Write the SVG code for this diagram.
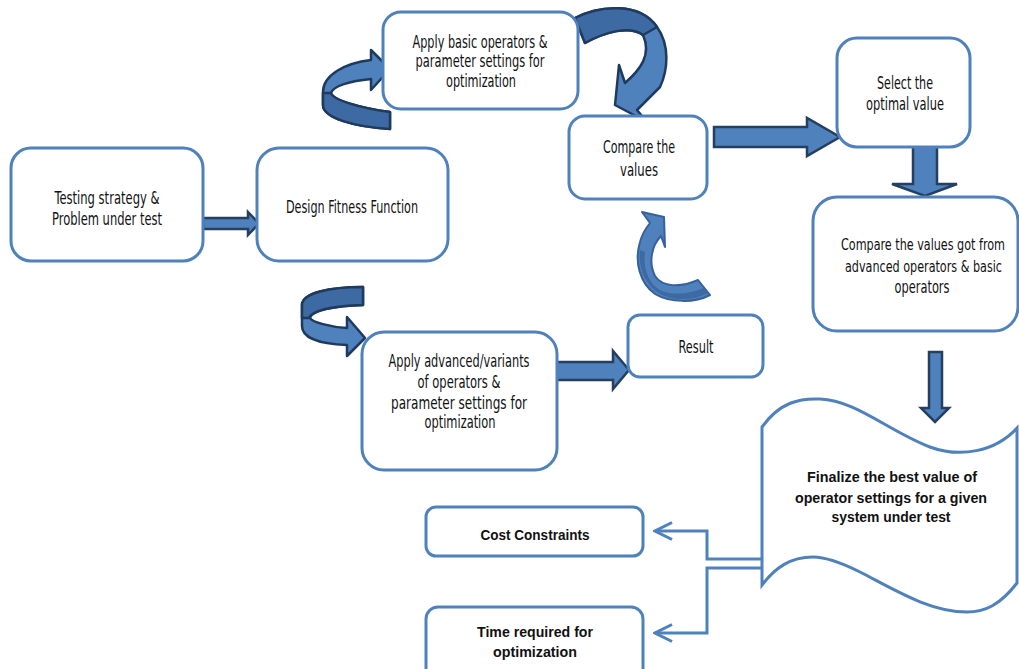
<svg xmlns="http://www.w3.org/2000/svg" width="1019" height="669" viewBox="0 0 1019 669">
  <style>
    .box { fill: #ffffff; stroke: #4f81bd; stroke-width: 3; }
    .lbl { font-family: "Liberation Sans Narrow", "DejaVu Sans Condensed", "Liberation Sans", sans-serif; font-size: 17px; fill: #111111; text-anchor: middle; }
    .tail { text-anchor: end; font-size: 16px; }
    .bold { font-family: "Liberation Sans", "DejaVu Sans", sans-serif; font-size: 15px; font-weight: bold; fill: #111111; text-anchor: middle; }
    .block { fill: #4f81bd; stroke: #243f60; stroke-width: 2.5; stroke-linejoin: miter; }
    .curl { fill: #4f81bd; stroke: #1f3a5f; stroke-width: 2.5; stroke-linejoin: round; }
    .shade { fill: #3e6aa3; stroke: #1f3a5f; stroke-width: 2.5; stroke-linejoin: round; }
    .soft { fill: #4f81bd; stroke: #37619a; stroke-width: 2; stroke-linejoin: round; }
    .elbow { fill: none; stroke: #4f81bd; stroke-width: 3; }
  </style>
  <defs>
    <marker id="chev" markerUnits="userSpaceOnUse" viewBox="-20 -11 22 22" markerWidth="22" markerHeight="22" refX="0" refY="0" orient="auto">
      <path d="M-17,-8.5 L0,0 L-17,8.5" fill="none" stroke="#4f81bd" stroke-width="3"/>
    </marker>
  </defs>

  <rect width="1019" height="669" fill="#ffffff"/>

  <!-- connectors -->
  <g id="connectors">
    <!-- straight block arrows -->
    <path class="block" d="M203,218 L248,218 L248,212 L259,223.5 L248,235 L248,229 L203,229 Z" stroke-width="3"/>
    <path class="block" d="M714,127 L807,127 L807,118 L840,137 L807,156 L807,147 L714,147 Z"/>
    <path class="block" d="M913,146 L937,146 L937,184 L957,184 L925,196 L892,184 L913,184 Z"/>
    <path class="block" d="M929,352 L942,352 L942,408 L949,408 L935,422 L921,408 L929,408 Z" stroke-width="3"/>
    <path class="block" d="M556,362 L613,362 L613,351 L629,370 L613,389 L613,380 L556,380 Z"/>

    <!-- curl into the basic-operators step -->
    <path class="curl" d="M371,60 L371,50 L390,69 L371,90 L371,79 C350,81 333,86 331,93 C333,100 360,108 390,112 L390,129 C355,127 323,118 323,105 L323,92 C323,75 345,63 371,60 Z"/>
    <path class="shade" d="M331,93 C333,100 360,108 390,112 L390,129 C355,127 323,118 323,105 L323,93 Z"/>

    <!-- curl from basic operators down to the comparison -->
    <path class="curl" d="M575,18 C600,5 640,2 657,27 C670,45 668,70 660,87 L637,110 L647,122 L615,105 L619,65 L625,83 C640,70 652,55 643,35 C630,25 605,32 585,43 Z"/>
    <path class="shade" d="M575,18 C600,5 640,2 657,27 L643,35 C630,25 605,32 585,43 Z"/>

    <!-- curl from the result back up to the comparison -->
    <path class="soft" d="M642,212 L664,217 L665,247 L661,236 C652,245 648,262 655,276 C662,287 680,288 698,280 L710,295 C695,303 670,303 655,294 C640,283 634,262 640,242 C642,234 646,228 650,223 Z"/>
    <path d="M640,250 C638,268 645,285 660,294 C675,302 695,300 708,293 L704,288 C690,294 672,296 660,290 C648,283 643,268 645,252 Z" fill="#3e6aa3"/>

    <!-- curl into the advanced-operators step -->
    <path class="curl" d="M363,287 L363,305 C335,306 312,310 310,318 C312,322 330,327 347,328 L347,317 L365,338 L347,356 L347,345 C320,344 302,338 302,326 L302,305 C302,293 330,287 363,287 Z"/>
    <path class="shade" d="M363,287 L363,305 C335,306 312,310 309,318 L302,318 L302,305 C302,293 330,287 363,287 Z"/>

    <!-- elbow lines from the final document to the constraints -->
    <polyline class="elbow" points="763,559 707,559 707,531 655,531" marker-end="url(#chev)"/>
    <polyline class="elbow" points="763,568 707,568 707,633 655,633" marker-end="url(#chev)"/>
  </g>

  <!-- nodes -->
  <g id="n-testing">
    <rect class="box" x="11" y="148" width="192" height="113" rx="20"/>
    <text class="lbl" x="107" y="204" textLength="105" lengthAdjust="spacingAndGlyphs">Testing strategy &amp;</text>
    <text class="lbl" x="107" y="225" textLength="110" lengthAdjust="spacingAndGlyphs">Problem under test</text>
  </g>

  <g id="n-fitness">
    <rect class="box" x="257" y="148" width="191" height="113" rx="22"/>
    <text class="lbl" x="352" y="213" textLength="132" lengthAdjust="spacingAndGlyphs">Design Fitness Function</text>
  </g>

  <g id="n-basic">
    <rect class="box" x="383" y="12" width="195" height="97" rx="18"/>
    <text class="lbl" x="480" y="48" textLength="135" lengthAdjust="spacingAndGlyphs">Apply basic operators &amp;</text>
    <text class="lbl" x="480" y="67" textLength="129" lengthAdjust="spacingAndGlyphs">parameter settings for</text>
    <text class="lbl" x="481" y="87" textLength="70" lengthAdjust="spacingAndGlyphs">optimization</text>
  </g>

  <g id="n-compare">
    <rect class="box" x="569" y="116" width="138" height="83" rx="16"/>
    <text class="lbl" x="639" y="153" textLength="72" lengthAdjust="spacingAndGlyphs">Compare the</text>
    <text class="lbl" x="639" y="176" textLength="38" lengthAdjust="spacingAndGlyphs">values</text>
  </g>

  <g id="n-select">
    <rect class="box" x="837" y="38" width="133" height="109" rx="20"/>
    <text class="lbl" x="905" y="89" textLength="56" lengthAdjust="spacingAndGlyphs">Select the</text>
    <text class="lbl" x="905" y="110" textLength="78" lengthAdjust="spacingAndGlyphs">optimal value</text>
  </g>

  <g id="n-compare-both">
    <rect class="box" x="813" y="197" width="205" height="134" rx="24"/>
    <text class="lbl tail" x="1005" y="250" textLength="164" lengthAdjust="spacingAndGlyphs">Compare the values got from</text>
    <text class="lbl tail" x="1002" y="272" textLength="157" lengthAdjust="spacingAndGlyphs">advanced operators &amp; basic</text>
    <text class="lbl" x="922" y="293" textLength="55" lengthAdjust="spacingAndGlyphs">operators</text>
  </g>

  <g id="n-advanced">
    <rect class="box" x="362" y="332" width="195" height="138" rx="22"/>
    <text class="lbl" x="459" y="367" textLength="141" lengthAdjust="spacingAndGlyphs">Apply advanced/variants</text>
    <text class="lbl" x="459" y="388" textLength="83" lengthAdjust="spacingAndGlyphs">of operators &amp;</text>
    <text class="lbl" x="459" y="409" textLength="136" lengthAdjust="spacingAndGlyphs">parameter settings   for</text>
    <text class="lbl" x="460" y="428" textLength="71" lengthAdjust="spacingAndGlyphs">optimization</text>
  </g>

  <g id="n-result">
    <rect class="box" x="628" y="315" width="135" height="62" rx="12"/>
    <text class="lbl" x="696" y="353" textLength="35" lengthAdjust="spacingAndGlyphs">Result</text>
  </g>

  <g id="n-finalize">
    <path class="box" d="M762,427 C780,402 800,398 820,399 C855,400 890,432 930,447 C960,458 995,452 1017,428 L1017,583 C1000,605 985,612 967,612 C930,612 895,590 860,572 C840,562 825,557 813,557 C790,557 775,568 762,585 Z"/>
    <text class="bold" x="892" y="482" textLength="170" lengthAdjust="spacingAndGlyphs">Finalize the best value of</text>
    <text class="bold" x="891" y="503" textLength="192" lengthAdjust="spacingAndGlyphs">operator settings for a given</text>
    <text class="bold" x="891" y="522" textLength="119" lengthAdjust="spacingAndGlyphs">system under test</text>
  </g>

  <g id="n-cost">
    <rect class="box" x="426" y="507" width="217" height="49" rx="10"/>
    <text class="bold" x="535" y="540" textLength="109" lengthAdjust="spacingAndGlyphs">Cost Constraints</text>
  </g>

  <g id="n-time">
    <rect class="box" x="426" y="607" width="217" height="75" rx="12"/>
    <text class="bold" x="535" y="637" textLength="116" lengthAdjust="spacingAndGlyphs">Time required for</text>
    <text class="bold" x="535" y="657" textLength="84" lengthAdjust="spacingAndGlyphs">optimization</text>
  </g>
</svg>
